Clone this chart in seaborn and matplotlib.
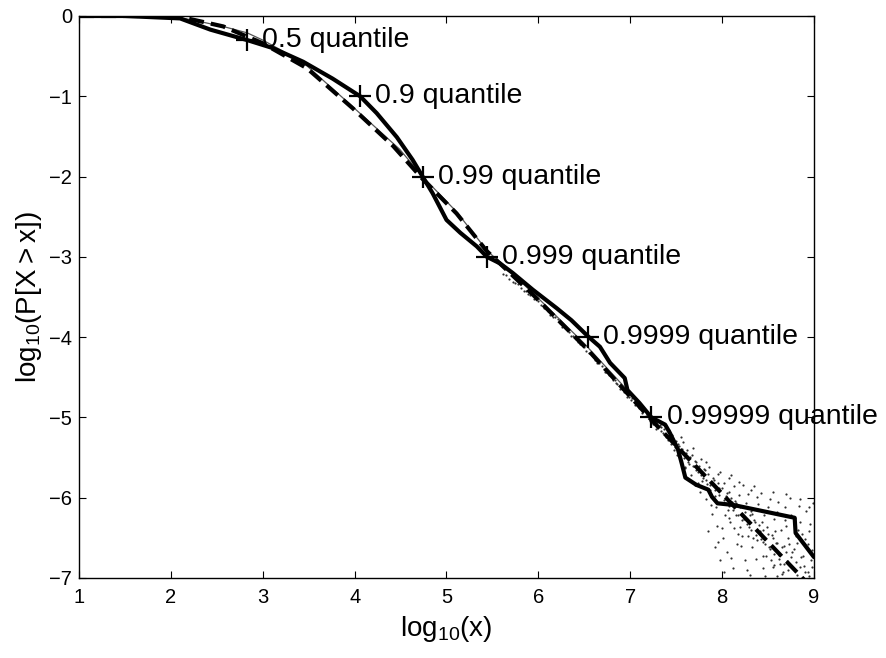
import matplotlib
matplotlib.use("Agg")
import matplotlib.pyplot as plt
import seaborn as sns
import pandas as pd

# ---------------- data ----------------
emp_x = [1.0, 1.5, 2.1, 2.43, 2.83, 3.11, 3.44, 3.76, 4.06, 4.24, 4.46, 4.63, 4.74,
         4.85, 5.0, 5.15, 5.33, 5.44, 5.58, 5.72, 5.94, 6.2, 6.36, 6.54, 6.67, 6.78,
         6.94, 6.97, 7.1, 7.23, 7.38, 7.43, 7.52, 7.56, 7.6, 7.72, 7.85, 7.89, 7.95,
         8.12, 8.79, 8.8, 9.0]
emp_y = [0.0, 0.0, -0.03, -0.17, -0.30, -0.40, -0.57, -0.78, -1.0, -1.21, -1.51, -1.79,
         -2.0, -2.21, -2.54, -2.70, -2.87, -3.0, -3.08, -3.20, -3.41, -3.64, -3.79,
         -3.99, -4.12, -4.32, -4.51, -4.66, -4.82, -5.0, -5.09, -5.19, -5.40, -5.57,
         -5.75, -5.84, -5.90, -5.99, -6.07, -6.09, -6.25, -6.44, -6.74]

fit_x = [1.0, 1.8, 2.1, 2.57, 3.0, 3.48, 3.98, 4.42, 4.74, 5.11, 5.44, 5.94, 6.54,
         7.23, 8.0, 8.74, 8.9]
fit_y = [0.0, 0.0, -0.01, -0.13, -0.34, -0.65, -1.15, -1.62, -2.03, -2.46, -2.93,
         -3.47, -4.16, -5.03, -5.95, -6.84, -7.03]

sim_x = [1.0, 1.8, 2.1, 2.32, 2.6, 2.83, 3.0, 3.19, 3.48, 3.95, 4.49, 4.74, 5.11,
         5.44, 5.94, 6.5, 7.0, 7.3]
sim_y = [0.0, 0.0, -0.02, -0.07, -0.14, -0.21, -0.30, -0.42, -0.62, -1.10, -1.66,
         -2.0, -2.44, -2.92, -3.45, -4.08, -4.70, -5.08]

q_labels = ["0.5 quantile", "0.9 quantile", "0.99 quantile", "0.999 quantile",
            "0.9999 quantile", "0.99999 quantile"]
q_x = [2.83, 4.06, 4.74, 5.44, 6.54, 7.23]
q_y = [-0.301, -1.0, -2.0, -3.0, -4.0, -5.0]

# simulated sample dots, (x, y) pairs
dot_pts = [
    # narrow band along the fit
    (5.62, -3.21), (5.68, -3.27), (5.75, -3.32), (5.81, -3.39), (5.86, -3.43),
    (5.91, -3.48), (5.97, -3.53), (6.03, -3.60), (6.08, -3.64), (6.13, -3.72),
    (6.18, -3.75), (6.24, -3.83), (6.29, -3.88), (6.33, -3.94), (6.38, -3.99),
    (6.43, -4.06), (6.47, -4.09), (6.52, -4.17), (6.58, -4.22), (6.62, -4.29),
    (6.66, -4.32), (6.71, -4.40), (6.74, -4.43), (6.79, -4.49), (6.83, -4.53),
    (6.86, -4.58), (6.91, -4.64), (6.94, -4.67), (6.99, -4.74), (7.02, -4.76),
    (7.06, -4.82), (7.11, -4.86), (7.14, -4.91), (7.18, -4.96), (7.22, -5.00),
    (7.26, -5.06), (7.29, -5.11),
    (5.65, -3.22), (5.72, -3.31), (5.78, -3.34), (5.84, -3.43), (5.89, -3.46),
    (5.95, -3.53), (6.00, -3.55), (6.06, -3.64), (6.11, -3.67), (6.16, -3.75),
    (6.21, -3.78), (6.26, -3.87), (6.31, -3.90), (6.36, -3.98), (6.41, -4.02),
    (6.45, -4.09), (6.50, -4.12), (6.55, -4.20), (6.60, -4.24), (6.64, -4.32),
    (6.69, -4.36), (6.73, -4.44), (6.77, -4.47), (6.81, -4.54), (6.85, -4.57),
    (6.89, -4.64), (6.93, -4.68), (6.97, -4.75), (7.01, -4.78), (7.05, -4.85),
    (7.09, -4.88), (7.13, -4.95), (7.17, -4.98), (7.21, -5.05), (7.25, -5.08),
    (7.28, -5.15),
    # widening wedge in the tail
    (7.33, -5.12), (7.36, -5.20), (7.38, -5.09), (7.41, -5.28), (7.42, -5.16),
    (7.44, -5.33), (7.46, -5.22), (7.48, -5.40), (7.50, -5.29), (7.51, -5.47),
    (7.53, -5.36), (7.55, -5.55), (7.57, -5.31), (7.58, -5.44), (7.60, -5.63),
    (7.62, -5.40), (7.63, -5.52), (7.66, -5.72), (7.67, -5.47), (7.69, -5.60),
    (7.71, -5.84), (7.72, -5.55), (7.74, -5.68), (7.76, -5.93), (7.77, -5.52),
    (7.79, -5.75), (7.81, -5.66), (7.82, -6.02), (7.84, -5.83), (7.86, -5.62),
    (7.87, -5.90), (7.89, -6.20), (7.91, -5.78), (7.92, -5.98), (7.94, -6.35),
    (7.96, -5.70), (7.97, -5.88), (7.99, -6.07), (8.01, -6.50), (8.02, -5.82),
    (8.03, -6.00), (8.05, -6.68), (8.06, -6.15), (8.08, -5.93), (8.09, -6.30),
    (8.11, -6.05), (8.12, -6.88), (8.13, -5.86), (8.15, -6.22), (8.17, -6.45),
    (8.18, -5.97), (8.20, -6.12), (8.21, -6.60), (8.23, -5.84), (8.24, -6.27),
    (8.26, -6.07), (8.27, -6.90), (8.29, -6.37), (8.31, -6.16), (8.32, -5.90),
    (8.34, -6.50), (8.36, -6.30), (8.37, -6.76), (8.39, -6.08), (8.41, -6.42),
    (8.42, -5.94), (8.44, -6.55), (8.46, -6.22), (8.47, -6.97), (8.49, -6.36),
    (8.51, -6.62), (8.52, -6.01), (8.54, -6.47), (8.56, -6.84), (8.57, -6.27),
    (8.59, -6.56), (8.61, -6.05), (8.62, -6.71), (8.64, -6.40), (8.66, -6.93),
    (8.67, -6.60), (8.69, -6.12), (8.71, -6.79), (8.72, -6.50), (8.74, -6.00),
    (8.76, -6.68), (8.77, -6.88), (8.79, -6.25), (8.81, -6.57), (8.82, -6.96),
    (8.84, -6.10), (8.86, -6.74), (8.87, -6.45), (8.89, -6.85), (8.91, -6.17),
    (8.92, -6.62), (8.94, -6.92), (8.96, -6.33), (8.97, -6.78), (8.99, -6.06),
    (7.64, -5.58), (7.78, -5.79), (7.93, -6.12), (8.07, -6.25), (8.16, -6.58),
    (8.28, -6.48), (8.43, -6.30), (8.58, -6.42), (8.73, -6.58), (8.88, -6.72),
    (8.04, -5.98), (8.19, -6.36), (8.33, -6.20), (8.48, -6.72), (8.63, -6.83),
    (8.78, -6.64), (8.93, -6.58), (7.73, -5.64), (7.88, -6.09), (8.00, -6.38),
    (8.14, -6.04), (8.25, -6.77), (8.38, -6.53), (8.53, -6.78), (8.68, -6.28),
    (8.83, -6.40), (8.98, -6.86),
    (7.32, -5.10), (7.34, -5.17), (7.37, -5.15), (7.39, -5.25), (7.43, -5.23),
    (7.45, -5.31), (7.47, -5.27), (7.49, -5.37), (7.52, -5.33), (7.54, -5.43),
    (7.56, -5.39), (7.59, -5.50), (7.61, -5.44), (7.63, -5.56), (7.65, -5.49),
    (7.68, -5.60), (7.70, -5.54), (7.72, -5.66), (7.75, -5.60), (7.77, -5.72),
    (7.80, -5.64), (7.82, -5.78), (7.85, -5.70), (7.87, -5.84), (7.90, -5.76),
    (7.92, -5.90), (7.95, -5.82), (7.97, -5.97), (8.00, -5.88), (8.02, -6.03),
    (8.05, -5.94), (8.07, -6.10), (8.10, -6.00), (8.12, -6.15), (8.15, -6.06),
    (8.17, -6.22), (8.20, -6.10), (8.22, -6.28), (8.25, -6.18), (8.27, -6.33),
    (8.30, -6.22), (8.32, -6.40), (8.35, -6.28), (8.37, -6.46), (8.40, -6.34),
    (8.42, -6.52), (8.45, -6.40), (8.47, -6.58), (8.50, -6.45), (8.52, -6.64),
    (8.55, -6.50), (8.57, -6.70), (8.60, -6.56), (8.62, -6.76), (8.65, -6.62),
    (8.67, -6.82), (8.70, -6.68), (8.72, -6.90), (8.75, -6.74), (8.80, -6.80),
    (8.85, -6.86), (8.90, -6.92), (8.95, -6.97),
    (7.55, -5.25), (7.60, -5.62), (7.68, -5.38), (7.74, -5.82), (7.83, -5.55),
    (7.88, -5.98), (7.98, -5.68), (8.03, -6.22), (8.08, -5.76), (8.13, -6.38),
    (8.18, -5.80), (8.22, -6.48), (8.28, -5.95), (8.33, -6.62), (8.38, -5.99),
    (8.44, -6.72), (8.50, -6.12), (8.55, -6.86), (8.60, -6.18), (8.65, -6.95),
    (8.70, -6.35), (8.75, -6.22), (8.80, -6.48), (8.85, -6.30), (8.90, -6.52),
    (8.95, -6.42), (8.98, -6.65),
    (7.95, -6.55), (7.98, -6.78), (8.02, -6.92), (8.10, -6.75), (8.30, -6.96),
    (8.45, -6.88), (8.60, -6.98), (8.10, -5.72), (8.35, -5.85), (8.55, -5.93),
    (8.70, -5.95), (8.85, -6.02), (8.95, -6.12), (7.85, -6.42), (7.92, -6.62),
]
dots_x = [p[0] for p in dot_pts]
dots_y = [p[1] for p in dot_pts]

x_ticks = [1, 2, 3, 4, 5, 6, 7, 8, 9]
y_ticks = [0, -1, -2, -3, -4, -5, -6, -7]

# ---------------- style ----------------
sns.set_style("ticks")
plt.rcParams["font.family"] = ["Liberation Sans", "DejaVu Sans"]
plt.rcParams["mathtext.fontset"] = "custom"
plt.rcParams["mathtext.rm"] = "Liberation Sans"
for k in ["text.color", "axes.labelcolor", "xtick.color", "ytick.color",
          "axes.edgecolor"]:
    plt.rcParams[k] = "black"

fig = plt.figure(figsize=(8.86, 6.58), dpi=100)
ax = fig.add_axes([0.0892, 0.1216, 0.8295, 0.8541])

emp = pd.DataFrame({"x": emp_x, "y": emp_y})
fit = pd.DataFrame({"x": fit_x, "y": fit_y})
sim = pd.DataFrame({"x": sim_x, "y": sim_y})
dots = pd.DataFrame({"x": dots_x, "y": dots_y})
qs = pd.DataFrame({"x": q_x, "y": q_y, "label": q_labels})

sns.scatterplot(data=dots, x="x", y="y", ax=ax, s=2.5, color="#303030",
                linewidth=0, legend=False, zorder=2)
sns.lineplot(data=sim, x="x", y="y", ax=ax, color="#555555", linewidth=0.9,
             estimator=None, sort=False, legend=False, zorder=3)
sns.lineplot(data=fit, x="x", y="y", ax=ax, color="black", linewidth=3,
             estimator=None, sort=False, legend=False, zorder=4)
ax.lines[-1].set_dashes((3.6, 1.7))
sns.lineplot(data=emp, x="x", y="y", ax=ax, color="black", linewidth=3,
             estimator=None, sort=False, legend=False, zorder=5)
sns.scatterplot(data=qs, x="x", y="y", ax=ax, marker="+", s=270, color="black",
                linewidth=1.6, legend=False, zorder=6)

for lab, xx, yy in zip(q_labels, q_x, q_y):
    ax.annotate(lab, xy=(xx, yy), xytext=(11, 0), textcoords="offset points",
                ha="left", va="center", fontsize=20.5, color="black", zorder=7,
                annotation_clip=False)

ax.set_xlim(1, 9)
ax.set_ylim(-7, 0)
ax.set_xticks(x_ticks)
ax.set_yticks(y_ticks)
ax.tick_params(direction="in", top=True, right=True, length=5, width=0.8,
               labelsize=14.5, colors="black")
ax.tick_params(axis="x", pad=7)
ax.tick_params(axis="y", pad=5)
for sp in ax.spines.values():
    sp.set_visible(True)
    sp.set_linewidth(1.0)
    sp.set_color("black")

ax.set_xlabel(r"$\mathregular{log_{10}(x)}$", fontsize=20, labelpad=5)
ax.set_ylabel(r"$\mathregular{log_{10}(P[X > x])}$", fontsize=20, labelpad=4)

fig.savefig("out.png", dpi=100, facecolor="white")
